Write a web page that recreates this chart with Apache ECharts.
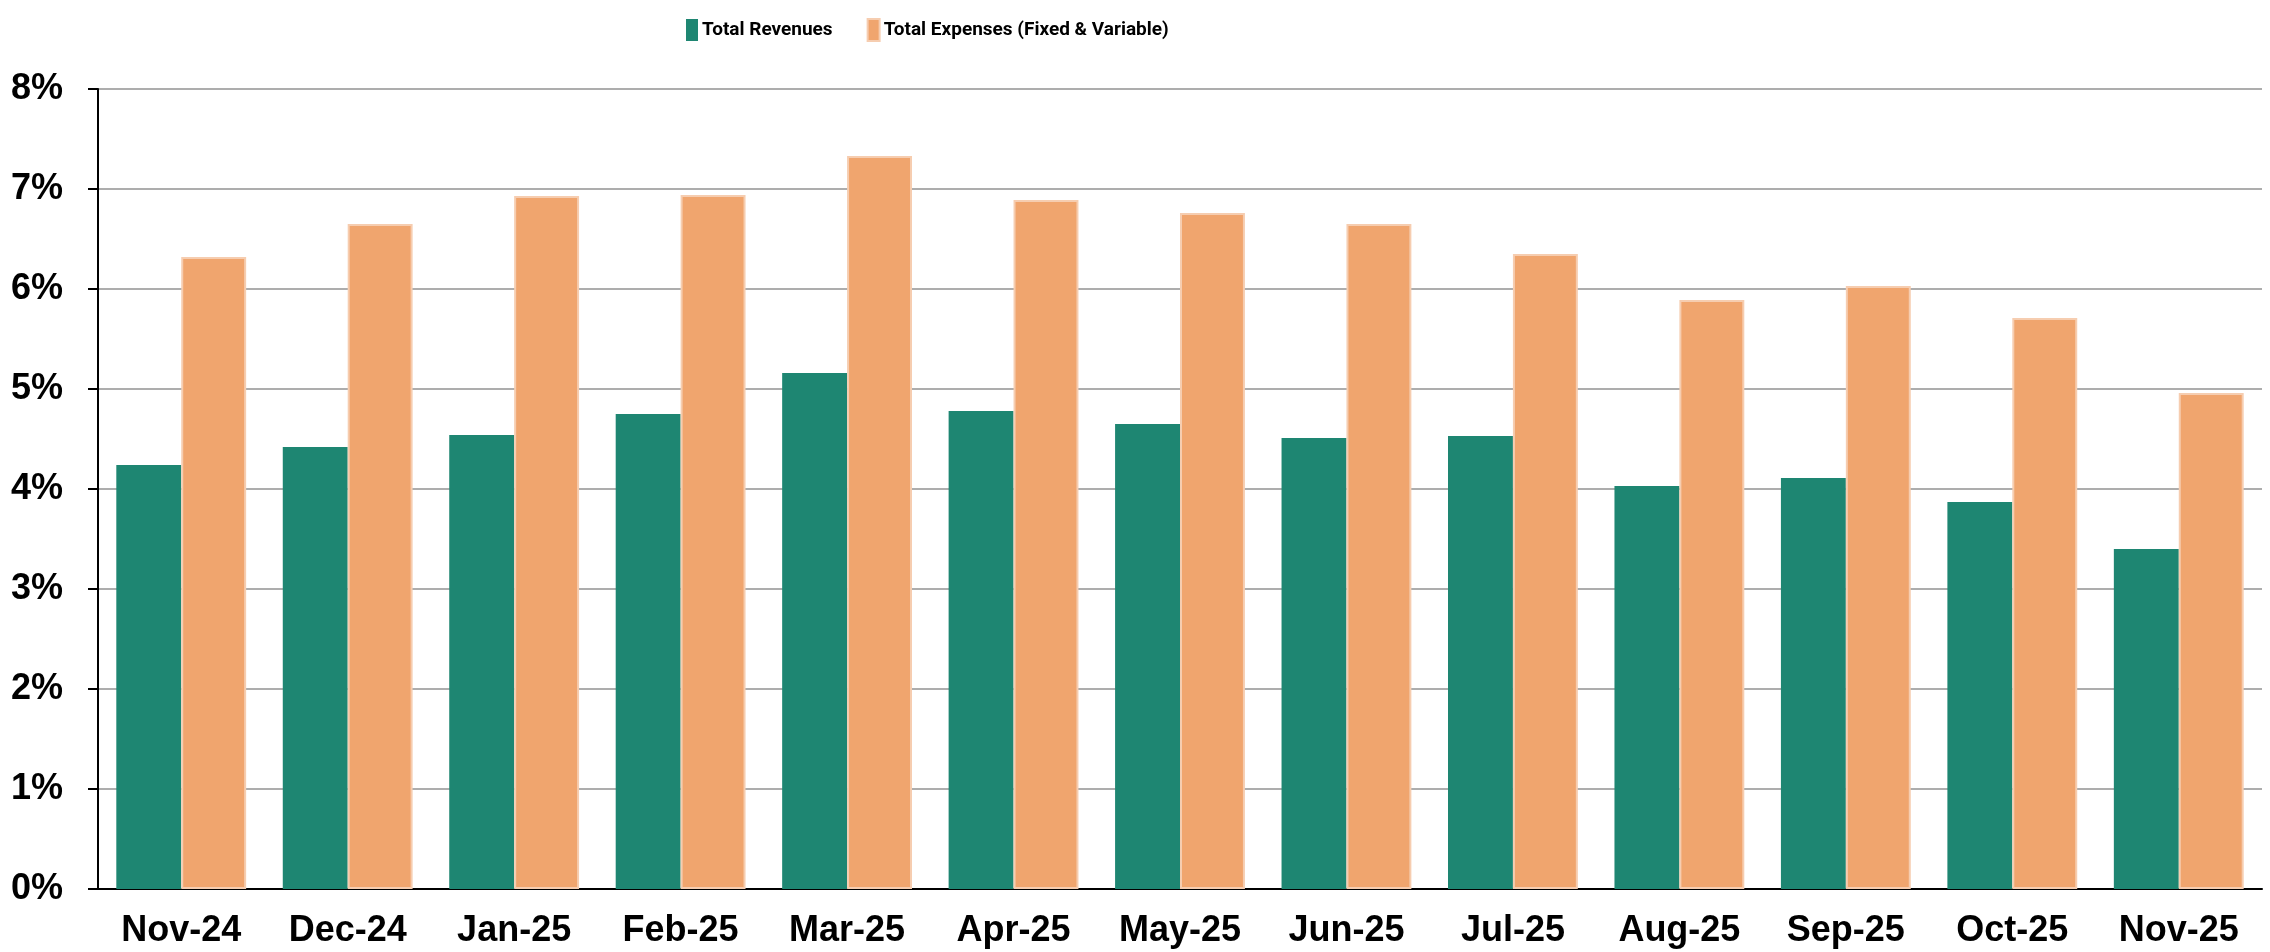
<!DOCTYPE html>
<html>
<head>
<meta charset="utf-8">
<script src="https://cdn.jsdelivr.net/npm/echarts@6/dist/echarts.min.js"></script>
<style>
  html, body { margin: 0; padding: 0; background: #ffffff; }
  #chart { width: 2270px; height: 952px; }
</style>
</head>
<body>
<div id="chart"></div>
<script>
// months on the x axis
const months = ["Nov-24", "Dec-24", "Jan-25", "Feb-25", "Mar-25", "Apr-25", "May-25",
  "Jun-25", "Jul-25", "Aug-25", "Sep-25", "Oct-25", "Nov-25"];
// values in percent
const totalRevenues = [4.24, 4.42, 4.54, 4.75, 5.16, 4.78, 4.65, 4.51, 4.53, 4.03, 4.11, 3.87, 3.40];
const totalExpenses = [6.32, 6.65, 6.93, 6.94, 7.33, 6.89, 6.76, 6.65, 6.35, 5.89, 6.03, 5.71, 4.96];
const seriesNames = ["Total Revenues", "Total Expenses (Fixed & Variable)"];

const chart = echarts.init(document.getElementById("chart"));

const option = {
  animation: false,
  backgroundColor: "#ffffff",
  legend: {
    left: 681,
    top: 13,
    itemWidth: 12,
    itemHeight: 22,
    itemGap: 34,
    icon: "rect",
    textStyle: {
      fontFamily: "Roboto, 'Liberation Sans', sans-serif",
      fontWeight: "bold",
      fontSize: 19,
      color: "#000000",
      padding: [0, 0, 0, -1],
    },
    data: seriesNames,
  },
  grid: {
    left: 98,
    right: 8,
    top: 89,
    bottom: 63,
    containLabel: false,
  },
  xAxis: {
    type: "category",
    data: months,
    axisLine: { lineStyle: { color: "#000000", width: 2 } },
    axisTick: { show: false },
    axisLabel: {
      color: "#000000",
      fontFamily: "'Liberation Sans', Arial, sans-serif",
      fontWeight: "bold",
      fontSize: 36,
      margin: 24,
    },
  },
  yAxis: {
    type: "value",
    min: 0,
    max: 8,
    interval: 1,
    axisLine: { show: true, lineStyle: { color: "#000000", width: 2 } },
    axisTick: { show: true, length: 10, lineStyle: { color: "#000000", width: 2 } },
    splitLine: { lineStyle: { color: "#adadad", width: 2 } },
    axisLabel: {
      formatter: "{value}%",
      color: "#000000",
      fontFamily: "'Liberation Sans', Arial, sans-serif",
      fontWeight: "bold",
      fontSize: 36,
      margin: 35,
    },
  },
  series: [
    {
      name: seriesNames[0],
      type: "bar",
      data: totalRevenues,
      barGap: "0%",
      barCategoryGap: "22%",
      itemStyle: { color: "#1e8672" },
    },
    {
      name: seriesNames[1],
      type: "bar",
      data: totalExpenses,
      barGap: "0%",
      barCategoryGap: "22%",
      itemStyle: { color: "#f0a56e", borderColor: "#f6cdb0", borderWidth: 2 },
    },
  ],
};

chart.setOption(option);
</script>
</body>
</html>
